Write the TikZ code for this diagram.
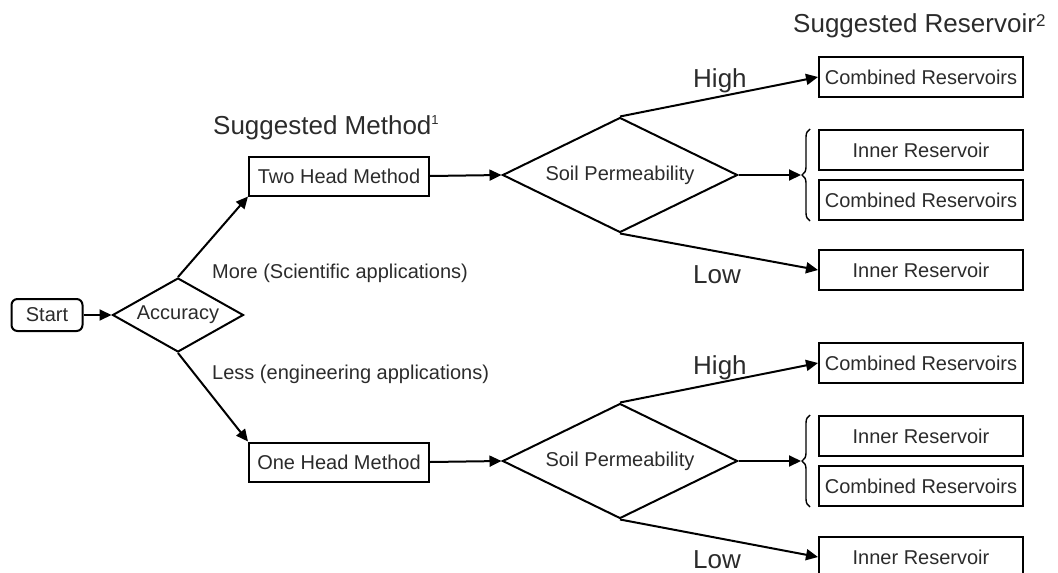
\documentclass[tikz,border=0pt]{standalone}
\usepackage{fontspec}
\setmainfont{Liberation Sans}
\usetikzlibrary{shapes.geometric,arrows.meta,decorations.pathreplacing,calc}
\definecolor{txtgray}{HTML}{2B2B2B}
\begin{document}
\begin{tikzpicture}[x=1pt,y=-1pt,
  txt/.style={text=txtgray, font=\fontsize{20}{24}\selectfont},
  resbox/.style={draw, line width=2pt, rectangle, minimum width=204pt, minimum height=40pt, inner sep=0pt, txt},
  methbox/.style={draw, line width=2pt, rectangle, minimum width=180pt, minimum height=39pt, inner sep=0pt, txt},
  startbox/.style={draw, line width=2pt, rectangle, rounded corners=6pt, minimum width=71pt, minimum height=32pt, inner sep=0pt, txt},
  dia/.style={draw, diamond, line width=2pt, inner sep=0pt, txt},
  arr/.style={line width=2pt, -{Triangle[length=12pt,width=11pt]}},
  biglbl/.style={text=txtgray, font=\fontsize{26}{30}\selectfont, inner sep=0pt, anchor=base west},
  smllbl/.style={text=txtgray, font=\fontsize{20}{24}\selectfont, inner sep=0pt, anchor=base west},
  brc/.style={line width=1.4pt, decorate, decoration={brace, amplitude=8pt}}
]
\useasboundingbox (0,0) rectangle (1058,573);

% nodes
\node[startbox] (start) at (47,315) {Start};
\node[dia, aspect=1.77, minimum width=131pt, minimum height=74pt] (acc) at (178,315) {Accuracy};
\node[methbox] (two) at (339,176) {Two Head Method};
\node[methbox] (one) at (339,462) {One Head Method};
\node[dia, aspect=2.04, minimum width=235pt, minimum height=115pt] (soilA) at (620,175) {Soil Permeability};
\node[dia, aspect=2.04, minimum width=235pt, minimum height=115pt] (soilB) at (620,461) {Soil Permeability};

\node[resbox] (crA) at (921,77) {Combined Reservoirs};
\node[resbox] (irA) at (921,150) {Inner Reservoir};
\node[resbox] (crB) at (921,200) {Combined Reservoirs};
\node[resbox] (irB) at (921,270) {Inner Reservoir};

\node[resbox] (crC) at (921,363) {Combined Reservoirs};
\node[resbox] (irC) at (921,436) {Inner Reservoir};
\node[resbox] (crD) at (921,486) {Combined Reservoirs};
\node[resbox] (irD) at (921,557) {Inner Reservoir};

% labels
\node[biglbl] (lmeth) at (213,134) {Suggested Method\raisebox{10pt}{\fontsize{13}{13}\selectfont 1}};
\node[biglbl] (lres) at (793,32) {Suggested Reservoir\raisebox{6pt}{\fontsize{17}{17}\selectfont 2}};
\node[biglbl] (hA) at (693,87) {High};
\node[biglbl] (lA) at (693,283) {Low};
\node[biglbl] (hB) at (693,374) {High};
\node[biglbl] (lB) at (693,568) {Low};
\node[smllbl] (more) at (212,278) {More (Scientific applications)};
\node[smllbl] (less) at (212,379) {Less (engineering applications)};

% braces
\draw[brc] ([xshift=-8pt]crB.south west) -- ([xshift=-8pt]irA.north west);
\draw[brc] ([xshift=-8pt]crD.south west) -- ([xshift=-8pt]irC.north west);
\coordinate (tipA) at ($(irA.north west)!0.5!(crB.south west)+(-17,0)$);
\coordinate (tipB) at ($(irC.north west)!0.5!(crD.south west)+(-17,0)$);

% connectors
\draw[arr] (start.east) -- (acc.west);
\draw[arr] (acc.north) -- (two.south west);
\draw[arr] (acc.south) -- (one.north west);
\draw[arr] (two.east) -- (soilA.west);
\draw[arr] (one.east) -- (soilB.west);

\draw[arr] (soilA.north) -- (crA.west);
\draw[arr] (soilA.east) -- (tipA);
\draw[arr] (soilA.south) -- (irB.west);

\draw[arr] (soilB.north) -- (crC.west);
\draw[arr] (soilB.east) -- (tipB);
\draw[arr] (soilB.south) -- (irD.west);
\end{tikzpicture}
\end{document}
